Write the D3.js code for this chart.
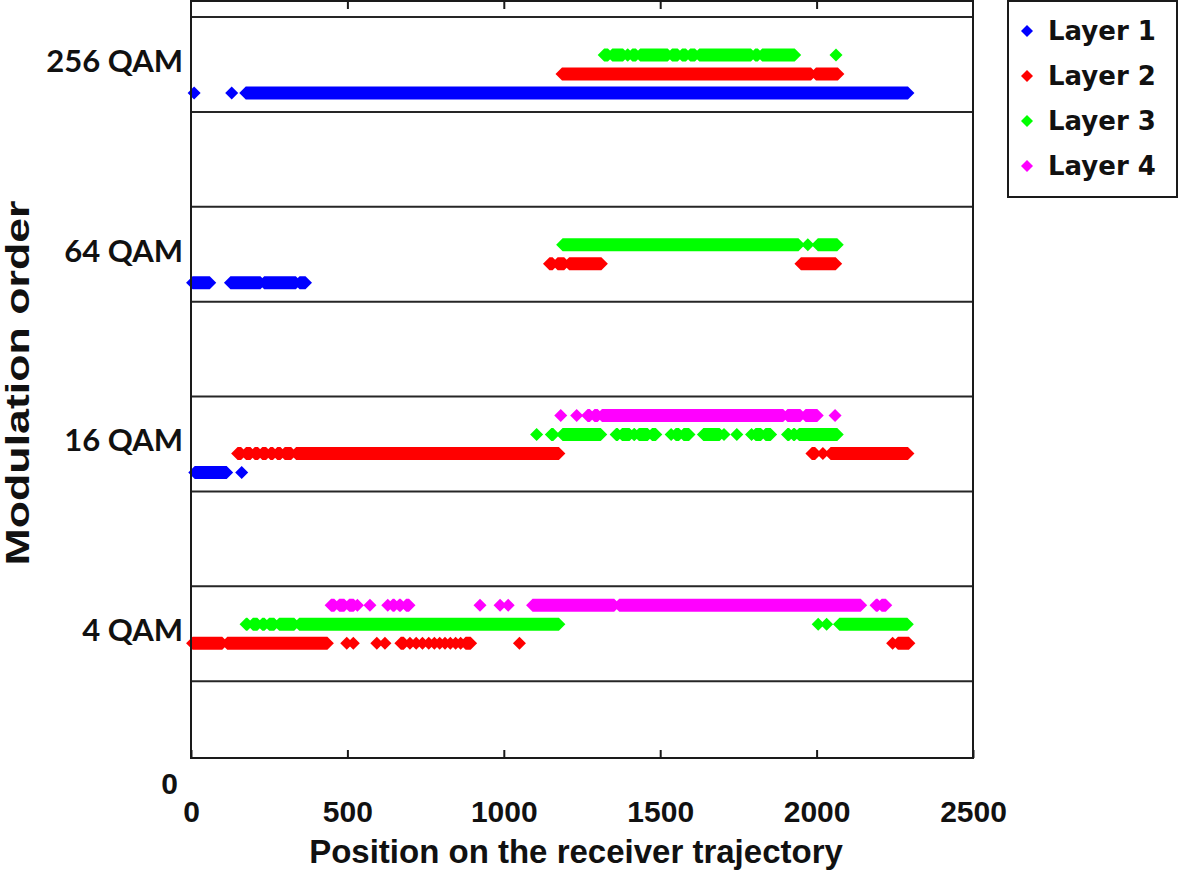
<!DOCTYPE html>
<html>
<head>
<meta charset="utf-8">
<script src="https://cdn.jsdelivr.net/npm/d3@7"></script>
<style>
  body { margin: 0; background: #fff; }
  svg { display: block; }
</style>
</head>
<body>
<svg id="chart" width="1180" height="872"></svg>
<script>
// x axis ticks
const xTicks = [0, 500, 1000, 1500, 2000, 2500];

// y rows: each modulation sits in the band above its level line
const modulations = ["4 QAM", "16 QAM", "64 QAM", "256 QAM"];
const modulationLevels = [1, 3, 5, 7];

const layerNames = ["Layer 1", "Layer 2", "Layer 3", "Layer 4"];
const layerColors = ["#0000ff", "#ff0000", "#00ff00", "#ff00ff"];

// runs of consecutive markers: [modulation, first position, last position]
const layer1Runs = [
  ["256 QAM", 10, 10], ["256 QAM", 130, 130], ["256 QAM", 175, 2292],
  ["64 QAM", 5, 60], ["64 QAM", 126, 222], ["64 QAM", 234, 335], ["64 QAM", 347, 366],
  ["16 QAM", 12, 114], ["16 QAM", 162, 162]
];

const layer2Runs = [
  ["256 QAM", 1186, 1982], ["256 QAM", 1998, 2068],
  ["64 QAM", 1146, 1156], ["64 QAM", 1172, 1193], ["64 QAM", 1209, 1312], ["64 QAM", 1950, 2061],
  ["16 QAM", 149, 160], ["16 QAM", 176, 190], ["16 QAM", 204, 214], ["16 QAM", 228, 240],
  ["16 QAM", 254, 262], ["16 QAM", 276, 286], ["16 QAM", 300, 320], ["16 QAM", 336, 1176],
  ["16 QAM", 1985, 1995], ["16 QAM", 2020, 2020], ["16 QAM", 2045, 2292],
  ["4 QAM", 5, 100], ["4 QAM", 116, 436], ["4 QAM", 498, 498], ["4 QAM", 519, 519],
  ["4 QAM", 594, 594], ["4 QAM", 620, 620], ["4 QAM", 671, 680], ["4 QAM", 700, 700],
  ["4 QAM", 720, 720], ["4 QAM", 740, 740], ["4 QAM", 760, 760], ["4 QAM", 778, 778],
  ["4 QAM", 795, 795], ["4 QAM", 812, 812], ["4 QAM", 829, 829], ["4 QAM", 846, 846],
  ["4 QAM", 862, 862], ["4 QAM", 878, 894], ["4 QAM", 1050, 1050],
  ["4 QAM", 2243, 2243], ["4 QAM", 2260, 2295]
];

const layer3Runs = [
  ["256 QAM", 1321, 1333], ["256 QAM", 1347, 1381], ["256 QAM", 1395, 1397], ["256 QAM", 1411, 1422],
  ["256 QAM", 1436, 1524], ["256 QAM", 1538, 1556], ["256 QAM", 1570, 1582], ["256 QAM", 1596, 1611],
  ["256 QAM", 1625, 1790], ["256 QAM", 1804, 1812], ["256 QAM", 1826, 1930], ["256 QAM", 2062, 2062],
  ["64 QAM", 1188, 1942], ["64 QAM", 1972, 1972], ["64 QAM", 2004, 2066],
  ["16 QAM", 1105, 1105], ["16 QAM", 1152, 1158], ["16 QAM", 1188, 1310],
  ["16 QAM", 1359, 1364], ["16 QAM", 1378, 1402], ["16 QAM", 1416, 1418], ["16 QAM", 1432, 1460],
  ["16 QAM", 1474, 1486], ["16 QAM", 1535, 1535], ["16 QAM", 1550, 1560], ["16 QAM", 1575, 1592],
  ["16 QAM", 1638, 1690], ["16 QAM", 1704, 1704], ["16 QAM", 1745, 1745],
  ["16 QAM", 1792, 1792], ["16 QAM", 1805, 1822], ["16 QAM", 1837, 1853],
  ["16 QAM", 1907, 1912], ["16 QAM", 1926, 1930], ["16 QAM", 1944, 2066],
  ["4 QAM", 176, 180], ["4 QAM", 198, 212], ["4 QAM", 228, 235], ["4 QAM", 250, 266],
  ["4 QAM", 282, 330], ["4 QAM", 346, 1176], ["4 QAM", 2005, 2005], ["4 QAM", 2032, 2032],
  ["4 QAM", 2073, 2290]
];

const layer4Runs = [
  ["16 QAM", 1182, 1182], ["16 QAM", 1233, 1233], ["16 QAM", 1268, 1275], ["16 QAM", 1290, 1300],
  ["16 QAM", 1314, 1893], ["16 QAM", 1907, 1948], ["16 QAM", 1965, 2002], ["16 QAM", 2059, 2059],
  ["4 QAM", 448, 458], ["4 QAM", 474, 490], ["4 QAM", 506, 520], ["4 QAM", 532, 532],
  ["4 QAM", 572, 572], ["4 QAM", 629, 629], ["4 QAM", 645, 650], ["4 QAM", 666, 670],
  ["4 QAM", 688, 697], ["4 QAM", 924, 924], ["4 QAM", 988, 988], ["4 QAM", 1014, 1014],
  ["4 QAM", 1092, 1353], ["4 QAM", 1369, 2141], ["4 QAM", 2190, 2195], ["4 QAM", 2208, 2221]
];

const allRuns = [layer1Runs, layer2Runs, layer3Runs, layer4Runs];

const svg = d3.select("#chart");
const plot = { left: 191, right: 973, top: 1, bottom: 758 };

const x = d3.scaleLinear().domain([0, 2500]).range([plot.left, plot.right]);
const y = d3.scaleLinear().domain([0, 8]).range([776, 17]);

const levelOf = {};
modulations.forEach((m, i) => { levelOf[m] = modulationLevels[i]; });

// row separators
svg.append("g")
  .selectAll("line")
  .data(d3.range(1, 9))
  .join("line")
  .attr("x1", plot.left)
  .attr("x2", plot.right)
  .attr("y1", d => y(d))
  .attr("y2", d => y(d))
  .attr("stroke", "#262626")
  .attr("stroke-width", 2);

// a run of diamonds drawn as one shape with pointed ends
const r = 6.5;
function runPath(x0, x1, yc) {
  return `M${x0 - r},${yc}L${x0},${yc - r}L${x1},${yc - r}L${x1 + r},${yc}L${x1},${yc + r}L${x0},${yc + r}Z`;
}

allRuns.forEach((runs, li) => {
  svg.append("g")
    .selectAll("path")
    .data(runs)
    .join("path")
    .attr("d", d => runPath(x(d[1]), x(d[2]), y(levelOf[d[0]] + 0.2 * (li + 1))))
    .attr("fill", layerColors[li]);
});

// frame
svg.append("rect")
  .attr("x", plot.left)
  .attr("y", plot.top)
  .attr("width", plot.right - plot.left)
  .attr("height", plot.bottom - plot.top)
  .attr("fill", "none")
  .attr("stroke", "#1a1a1a")
  .attr("stroke-width", 2);

// top ticks
const topAxis = svg.append("g")
  .attr("transform", `translate(0,${plot.top})`)
  .call(d3.axisBottom(x).tickValues(xTicks.slice(1, -1)).tickSize(8).tickFormat(""));
topAxis.select(".domain").remove();

// bottom axis with labels
const bottomAxis = svg.append("g")
  .attr("transform", `translate(0,${plot.bottom})`)
  .call(d3.axisBottom(x).tickValues(xTicks).tickSizeInner(-8).tickSizeOuter(0).tickPadding(43).tickFormat(d3.format("d")));
bottomAxis.select(".domain").remove();
bottomAxis.selectAll(".tick line").attr("stroke", "#1a1a1a").attr("stroke-width", 2);
topAxis.selectAll(".tick line").attr("stroke", "#1a1a1a").attr("stroke-width", 2);
bottomAxis.selectAll(".tick text")
  .attr("fill", "#111")
  .style("font-family", "'Liberation Sans', Arial, sans-serif")
  .style("font-size", "30px")
  .style("font-weight", "bold");

// y tick labels
const yLabelValues = [0].concat(modulationLevels.map(d => d + 0.5));
const yLabelText = ["0"].concat(modulations);
const leftAxis = svg.append("g")
  .attr("transform", "translate(183,0)")
  .call(d3.axisLeft(y).tickValues(yLabelValues).tickSize(0).tickPadding(0)
    .tickFormat((d, i) => yLabelText[i]));
leftAxis.select(".domain").remove();
leftAxis.selectAll(".tick text")
  .attr("fill", "#111")
  .attr("dy", "0.22em")
  .style("font-family", "Lato, 'Open Sans', sans-serif")
  .style("font-size", "31px")
  .style("font-weight", "bold");
leftAxis.selectAll(".tick text")
  .filter((d, i) => i === 0)
  .attr("x", -5)
  .attr("dy", "0.58em")
  .style("font-family", "'Liberation Sans', Arial, sans-serif")
  .style("font-size", "30px");

// axis titles
svg.append("text")
  .attr("x", 576)
  .attr("y", 863)
  .attr("text-anchor", "middle")
  .attr("fill", "#111")
  .style("font-family", "'Liberation Sans', Arial, sans-serif")
  .style("font-size", "33px")
  .style("font-weight", "bold")
  .text("Position on the receiver trajectory");

svg.append("text")
  .attr("transform", "translate(29,383) rotate(-90)")
  .attr("text-anchor", "middle")
  .attr("textLength", 365)
  .attr("lengthAdjust", "spacingAndGlyphs")
  .attr("fill", "#111")
  .style("font-family", "'Liberation Sans Narrow', 'Liberation Sans', sans-serif")
  .style("font-size", "33px")
  .style("font-weight", "bold")
  .text("Modulation order");

// legend
const legend = svg.append("g");
legend.append("rect")
  .attr("x", 1008)
  .attr("y", 1)
  .attr("width", 169)
  .attr("height", 196)
  .attr("fill", "#fff")
  .attr("stroke", "#1a1a1a")
  .attr("stroke-width", 2);

const items = legend.selectAll("g.item")
  .data(layerNames)
  .join("g")
  .attr("class", "item")
  .attr("transform", (d, i) => `translate(0,${31 + i * 45})`);

items.append("path")
  .attr("d", "M1021,0L1027,-6L1033,0L1027,6Z")
  .attr("fill", (d, i) => layerColors[i]);

items.append("text")
  .attr("x", 1048)
  .attr("dy", "0.36em")
  .attr("fill", "#111")
  .style("font-family", "'DejaVu Sans', Verdana, sans-serif")
  .style("font-size", "26px")
  .style("font-weight", "bold")
  .text(d => d);
</script>
</body>
</html>
